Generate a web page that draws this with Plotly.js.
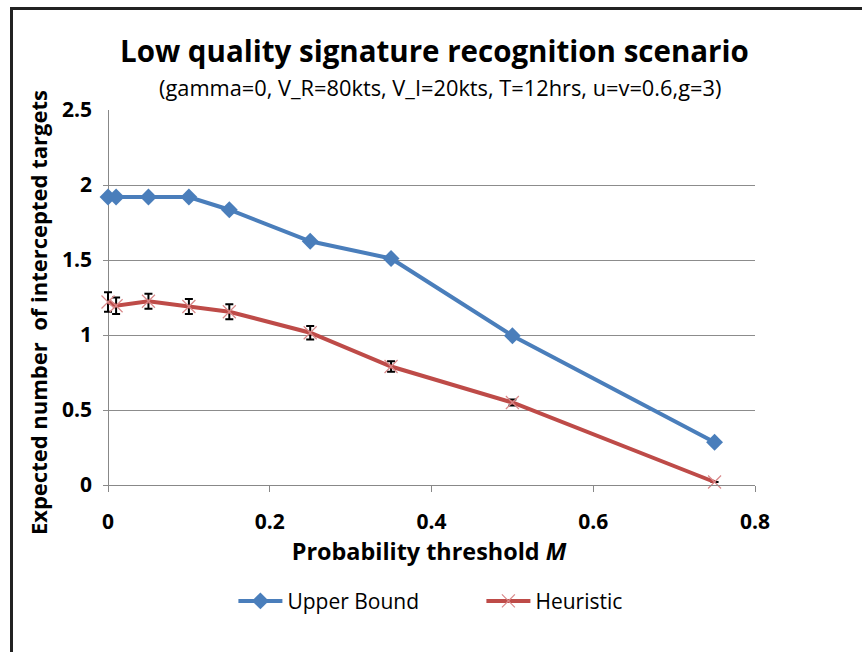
<!DOCTYPE html>
<html><head><meta charset="utf-8">
<script src="https://cdn.plot.ly/plotly-3.0.1.min.js"></script>
<style>
html,body{margin:0;padding:0;background:#fff;}
#wrap{position:relative;width:862px;height:652px;}
#chart{position:absolute;left:0;top:0;width:862px;height:652px;}
#frame{position:absolute;left:10px;top:7px;width:852px;height:645px;border-left:3px solid #222;border-top:3px solid #222;pointer-events:none;box-sizing:border-box;}
</style></head>
<body><div id="wrap"><div id="chart"></div><div id="frame"></div></div>
<script>
const thresholds = [0, 0.01, 0.05, 0.1, 0.15, 0.25, 0.35, 0.5, 0.75];
const upperBound = [1.92, 1.92, 1.92, 1.92, 1.835, 1.625, 1.51, 0.995, 0.285];
const heuristic = [1.22, 1.195, 1.225, 1.19, 1.155, 1.015, 0.79, 0.55, 0.02];
const heuristicErr = [0.065, 0.055, 0.05, 0.05, 0.05, 0.045, 0.035, 0.02, 0];
const xTicks = [0, 0.2, 0.4, 0.6, 0.8];
const xTickText = ['0', '0.2', '0.4', '0.6', '0.8'];
const yTicks = [0, 0.5, 1, 1.5, 2, 2.5];
const yTickText = ['0', '0.5', '1', '1.5', '2', '2.5'];
const titleText = 'Low quality signature recognition scenario';
const subtitleText = '(gamma=0, V_R=80kts, V_I=20kts, T=12hrs, u=v=0.6,g=3)';
const yTitleText = 'Expected number  of intercepted targets';

const font = 'Open Sans, Noto Sans, sans-serif';
const traces = [
  {x: thresholds, y: upperBound, name: 'Upper Bound', type: 'scatter', mode: 'lines+markers', cliponaxis: false,
   line: {color: '#4a7ebb', width: 4}, marker: {symbol: 'diamond', size: 13, color: '#4a7ebb'}},
  {x: thresholds, y: heuristic, name: 'Heuristic', type: 'scatter', mode: 'lines+markers', cliponaxis: false,
   line: {color: '#be4b48', width: 4},
   marker: {symbol: 'x-thin', size: 13, line: {color: '#d9898a', width: 1.2}, color: '#d9898a'},
   error_y: {type: 'data', array: heuristicErr, visible: true, color: '#000', thickness: 2, width: 4}}
];
const layout = {
  width: 862, height: 652,
  margin: {l: 103, r: 107, t: 110, b: 167},
  paper_bgcolor: '#fff', plot_bgcolor: '#fff',
  font: {family: font, color: '#000'},
  showlegend: true,
  annotations: [
    {text: '<b>' + titleText + '</b>', xref: 'paper', yref: 'paper', x: 0.509, y: 1.16, xanchor: 'center', yanchor: 'middle',
     showarrow: false, font: {family: font, size: 29.5, color: '#000'}},
    {text: subtitleText, xref: 'paper', yref: 'paper', x: 0.517, y: 1.061, xanchor: 'center', yanchor: 'middle',
     showarrow: false, font: {family: font, size: 21.8, color: '#000'}},
    {text: '<b>' + yTitleText + '</b>', xref: 'paper', yref: 'paper', x: -0.0997, y: 0.461, xanchor: 'center', yanchor: 'middle',
     textangle: -90, showarrow: false, font: {family: font, size: 22, color: '#000'}}
  ],
  xaxis: {range: [-0.0062, 0.8], tickvals: xTicks, ticktext: xTickText, showgrid: false,
    zeroline: true, zerolinecolor: '#888', zerolinewidth: 1, automargin: false,
    showline: true, linecolor: '#888', linewidth: 1, ticks: 'outside', ticklen: 6, tickcolor: '#888',
    ticklabelstandoff: 12,
    tickfont: {family: font, size: 21, color: '#000', weight: 'bold'},
    title: {text: '<b>Probability threshold <i>M</i></b>', font: {family: font, size: 23.4, color: '#000'}, standoff: 0}},
  yaxis: {range: [0, 2.5], tickvals: yTicks, ticktext: yTickText, showgrid: true, gridcolor: '#8c8c8c', gridwidth: 1,
    zeroline: false, showline: false, ticks: '', automargin: false,
    ticklabelstandoff: 10,
    tickfont: {family: font, size: 21, color: '#000', weight: 'bold'}},
  legend: {orientation: 'h', x: 0.2, xanchor: 'left', y: -0.31, yanchor: 'middle',
    font: {family: font, size: 21, color: '#000'}, itemwidth: 44, entrywidth: 189, traceorder: 'normal'}
};
Plotly.newPlot('chart', traces, layout, {displayModeBar: false, staticPlot: true});
</script></body></html>
